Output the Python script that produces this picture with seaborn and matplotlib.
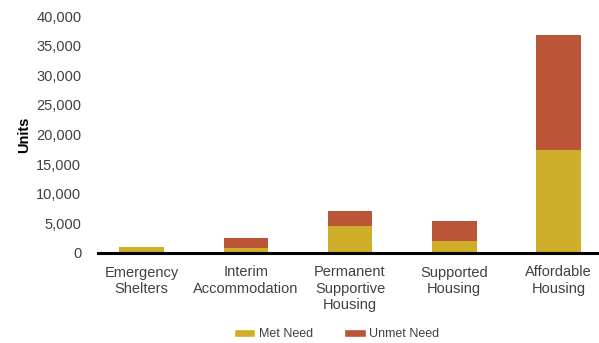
import matplotlib
matplotlib.use("Agg")
import matplotlib.pyplot as plt
import seaborn as sns
import pandas as pd
from matplotlib.patches import Patch
from matplotlib.ticker import FuncFormatter

categories = ["Emergency\nShelters", "Interim\nAccommodation", "Permanent\nSupportive\nHousing",
              "Supported\nHousing", "Affordable\nHousing"]
met_need = [930, 780, 4600, 2080, 17300]
unmet_need = [0, 1670, 2550, 3370, 19550]
yticks = [0, 5000, 10000, 15000, 20000, 25000, 30000, 35000, 40000]

met_color = "#CFAE2A"
unmet_color = "#BA5538"
text_color = "#404040"

sns.set_theme(style="white")
plt.rcParams['font.family'] = ['Liberation Sans', 'DejaVu Sans']

df = pd.DataFrame({"category": categories, "met": met_need, "unmet": unmet_need})
df["total"] = df["met"] + df["unmet"]

fig = plt.figure(figsize=(5.99, 3.43), dpi=100)
ax = fig.add_axes([98/599, 1-253/343, 1-98/599, (253-16)/343])

sns.barplot(data=df, x="category", y="total", color=unmet_color, width=0.43,
            saturation=1, ax=ax, linewidth=0)
sns.barplot(data=df, x="category", y="met", color=met_color, width=0.43,
            saturation=1, ax=ax, linewidth=0)

ax.set_ylim(0, 40000)
ax.set_yticks(yticks)
ax.yaxis.set_major_formatter(FuncFormatter(lambda v, p: f"{int(v):,}"))
ax.set_xlim(-0.42, 4.39)
ax.set_xlabel("")
ax.set_ylabel("Units", fontsize=10.5, fontweight="bold", color="black", labelpad=4)
ax.tick_params(axis="y", labelsize=10.5, labelcolor=text_color, length=0, pad=12)
ax.tick_params(axis="x", labelsize=10.5, labelcolor=text_color, length=0, pad=9)
for lbl in ax.get_xticklabels():
    lbl.set_verticalalignment("top")
    lbl.set_linespacing(1.2)

for s in ["top", "right", "left"]:
    ax.spines[s].set_visible(False)
ax.spines["bottom"].set_color("black")
ax.spines["bottom"].set_linewidth(2.2)
ax.spines["bottom"].set_zorder(5)

handles = [Patch(facecolor=met_color, label="Met Need"),
           Patch(facecolor=unmet_color, label="Unmet Need")]
leg = fig.legend(handles=handles, loc="center", bbox_to_anchor=(0.562, 1-334/343),
                 ncol=2, frameon=False, fontsize=9, handlelength=1.7, handleheight=0.6,
                 columnspacing=2.5, handletextpad=0.3)
for t in leg.get_texts():
    t.set_color(text_color)

fig.savefig("out.png", dpi=100)
